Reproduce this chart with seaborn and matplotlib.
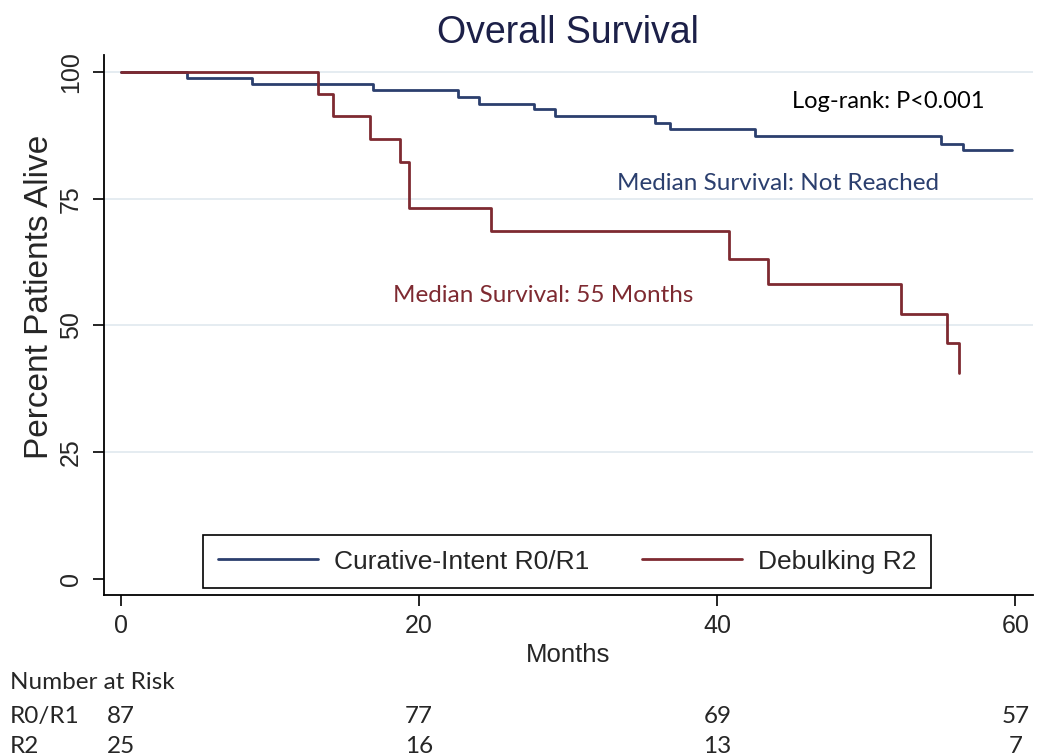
import numpy as np
import pandas as pd
from matplotlib import pyplot as plt
from matplotlib.transforms import blended_transform_factory
import seaborn as sns

sns.set_style("white")
plt.rcParams['font.family'] = ['Liberation Sans', 'DejaVu Sans']

# Kaplan-Meier steps (months, percent alive)
r01_months = [0, 4.4, 8.8, 16.9, 22.6, 24.0, 27.7, 29.1, 35.8, 36.8, 42.5, 55.0, 56.5, 59.8]
r01_pct = [100, 98.8, 97.6, 96.5, 95.1, 93.8, 92.7, 91.3, 90.0, 88.8, 87.4, 85.9, 84.6, 84.6]
r2_months = [0, 13.2, 14.2, 16.7, 18.7, 19.3, 24.8, 40.8, 43.4, 52.3, 55.4, 56.2]
r2_pct = [100, 95.8, 91.3, 86.8, 82.2, 73.1, 68.6, 63.2, 58.1, 52.2, 46.5, 40.7]

group_names = ["Curative-Intent R0/R1", "Debulking R2"]
group_colors = ["#2b3f6e", "#7e2a31"]

risk_months = [0, 20, 40, 60]
risk_r01 = [87, 77, 69, 57]
risk_r2 = [25, 16, 13, 7]

df = pd.concat([
    pd.DataFrame({"month": r01_months, "pct": r01_pct, "group": group_names[0]}),
    pd.DataFrame({"month": r2_months, "pct": r2_pct, "group": group_names[1]}),
])

fig = plt.figure(figsize=(10.41, 7.55), dpi=100)
ax = fig.add_axes([0.0999, 0.2119, 0.892, 0.7152])

sns.lineplot(data=df, x="month", y="pct", hue="group", palette=group_colors,
             estimator=None, sort=False, drawstyle="steps-post", linewidth=2.0, ax=ax)
ax.get_legend().remove()

ax.set_xlim(-1.14, 61.15)
ax.set_ylim(-3.24, 103.4)
ax.set_xticks([0, 20, 40, 60])
ax.set_yticks([0, 25, 50, 75, 100])
for y in [25, 50, 75, 100]:
    ax.axhline(y, color="#e0e9ef", linewidth=1.2, zorder=0)

ax.tick_params(axis="both", which="major", bottom=True, left=True, direction="out",
               length=8, width=1.2, labelsize=18, color="black")
ax.tick_params(axis="x", pad=6)
ax.tick_params(axis="y", pad=7)
for lab in ax.get_yticklabels():
    lab.set_rotation(90)
    lab.set_va("center")
for side in ["top", "right"]:
    ax.spines[side].set_visible(False)
for side in ["left", "bottom"]:
    ax.spines[side].set_color("black")
    ax.spines[side].set_linewidth(1.3)

ax.set_xlabel("Months", fontsize=18.5, labelpad=3)
ax.set_ylabel("Percent Patients Alive", fontsize=24)
ax.yaxis.set_label_coords(-0.053, 0.552)
ax.set_title("Overall Survival", fontsize=27, color="#1c2048", pad=9)

ax.text(45.0, 94.3, "Log-rank: P<0.001", fontsize=17, family=["Lato", "DejaVu Sans"],
        color="black", va="center", ha="left")
ax.text(33.25, 78.1, "Median Survival: Not Reached", fontsize=17.5, family=["Lato", "DejaVu Sans"],
        color=group_colors[0], va="center", ha="left")
ax.text(18.25, 56.0, "Median Survival: 55 Months", fontsize=17.5, family=["Lato", "DejaVu Sans"],
        color=group_colors[1], va="center", ha="left")

lines = ax.get_lines()[:2]
leg = ax.legend(lines, group_names, loc="center", bbox_to_anchor=(0.4985, 0.0617),
                ncol=2, fontsize=19, frameon=True, fancybox=False, framealpha=1,
                edgecolor="black", handlelength=3.8, handletextpad=0.6,
                columnspacing=2.0, borderpad=0.55, borderaxespad=0)
leg.get_frame().set_linewidth(1.2)
for h in leg.get_lines():
    h.set_linewidth(2.0)

# number at risk table under the axis
tr = blended_transform_factory(ax.transData, fig.transFigure)
tfont = dict(family=["Lato", "DejaVu Sans"], fontsize=17.5, va="baseline")
fig.text(0.0096, 1 - 689.3 / 755, "Number at Risk", ha="left", **tfont)
fig.text(0.0096, 1 - 722.7 / 755, "R0/R1", ha="left", **tfont)
fig.text(0.0096, 1 - 752.7 / 755, "R2", ha="left", **tfont)
for m, a, b in zip(risk_months, risk_r01, risk_r2):
    ax.text(m, 1 - 722.7 / 755, str(a), ha="center", transform=tr, **tfont)
    ax.text(m, 1 - 752.7 / 755, str(b), ha="center", transform=tr, **tfont)

fig.savefig("out.png", dpi=100)
